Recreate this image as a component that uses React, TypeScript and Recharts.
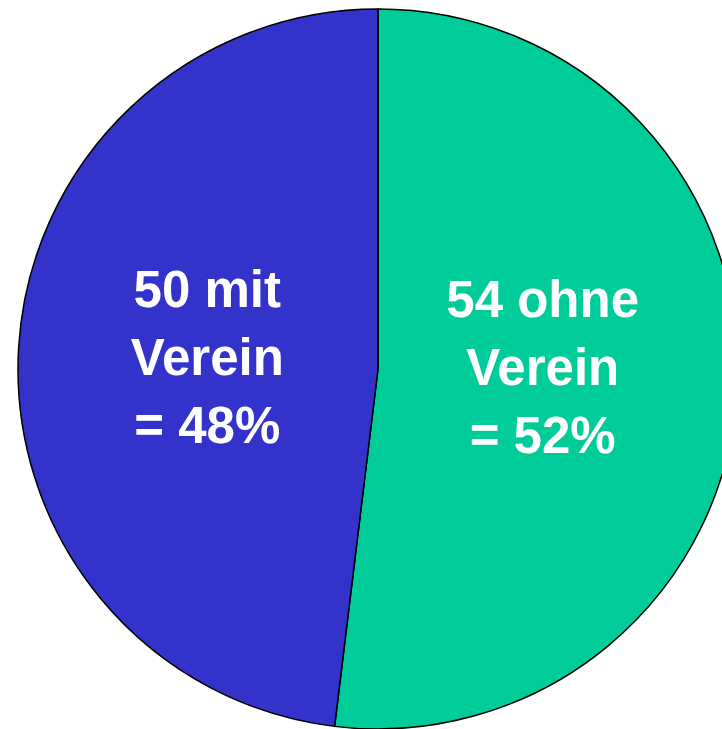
import { PieChart, Pie, Cell } from 'recharts';

const categories = ['ohne Verein', 'mit Verein'];
const counts = [54, 50];
const labelLines = [
  ['54 ohne', 'Verein', '= 52%'],
  ['50 mit', 'Verein', '= 48%'],
];
const colors = ['#00CC99', '#3333CC'];

const data = categories.map((name, i) => ({ name, value: counts[i], lines: labelLines[i] }));

const RAD = Math.PI / 180;

interface LabelProps {
  cx: number;
  cy: number;
  midAngle: number;
  index: number;
}

/** Beschriftung im Segment, dreizeilig */
function SliceLabel({ cx, cy, midAngle, index }: LabelProps) {
  const x = cx - 3 + 168 * Math.cos(-midAngle * RAD);
  const yMid = cy - 6 + 75 * Math.sin(-midAngle * RAD);
  const lines = labelLines[index];
  const lh = 68;
  return (
    <text
      x={x}
      y={yMid}
      fill="#ffffff"
      textAnchor="middle"
      fontFamily="'Liberation Sans', Arial, sans-serif"
      fontWeight="bold"
      fontSize={51}
    >
      {lines.map((l, i) => (
        <tspan key={i} x={x} y={yMid + (i - 1) * lh + 17}>
          {l}
        </tspan>
      ))}
    </text>
  );
}

export default function App() {
  return (
    <div style={{ position: 'absolute', left: 0, top: 0, width: 722, height: 729, overflow: 'hidden', background: '#fff' }}>
      <PieChart width={722} height={729} margin={{ top: 0, right: 0, bottom: 0, left: 0 }}>
        <Pie
          data={data}
          dataKey="value"
          nameKey="name"
          cx={378}
          cy={369}
          outerRadius={360}
          startAngle={90}
          endAngle={-270}
          stroke="#000000"
          strokeWidth={1.5}
          labelLine={false}
          label={SliceLabel as any}
          isAnimationActive={false}
        >
          {data.map((entry, i) => (
            <Cell key={entry.name} fill={colors[i]} />
          ))}
        </Pie>
      </PieChart>
    </div>
  );
}
